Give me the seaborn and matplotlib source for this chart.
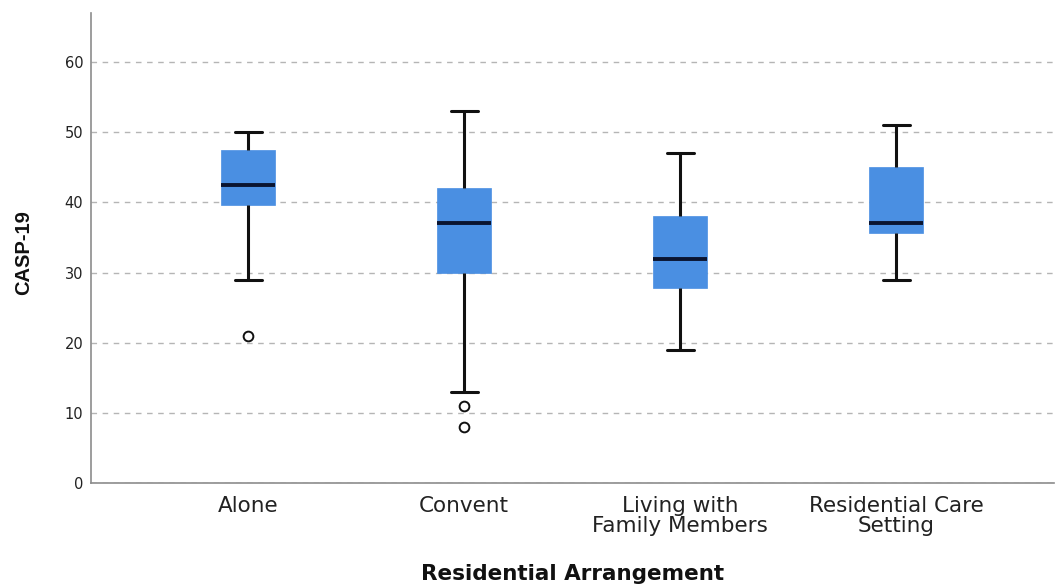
import numpy as np
import pandas as pd
import seaborn as sns
import matplotlib
matplotlib.use("Agg")
import matplotlib.pyplot as plt

# Values
categories = ["Alone", "Convent", "Living with\nFamily Members", "Residential Care\nSetting"]
whisker_low = [29, 13, 19, 29]
q1 = [39.7, 30, 27.8, 35.6]
median = [42.5, 37, 32, 37]
q3 = [47.5, 42, 38, 45]
whisker_high = [50, 53, 47, 51]
outliers = [[21], [11, 8], [], []]

# Build a table whose boxplot statistics reproduce the summary values above
rows = []
reps = 50
for i, cat in enumerate(categories):
    vals = list(outliers[i]) + [whisker_low[i]] + [q1[i]] * reps + [median[i]] * reps \
        + [q3[i]] * reps + [whisker_high[i]]
    rows += [(cat, v) for v in vals]
df = pd.DataFrame(rows, columns=["Residential Arrangement", "CASP-19"])

sns.set_theme(style="white")
plt.rcParams["font.family"] = ["DejaVu Sans"]

fig = plt.figure(figsize=(10.56, 5.87), dpi=100)
ax = fig.add_axes([91 / 1056, 1 - 483 / 587, (1054 - 91) / 1056, (483 - 13) / 587])

box_color = "#4a8fe2"
sns.boxplot(
    data=df, x="Residential Arrangement", y="CASP-19", order=categories,
    color=box_color, saturation=1, width=0.25, linewidth=2.2, linecolor="black",
    whis=1.5, ax=ax,
    boxprops=dict(edgecolor=box_color, linewidth=0.5),
    medianprops=dict(color="#0a1430", linewidth=2.8),
    whiskerprops=dict(color="#111111", linewidth=2.2),
    capprops=dict(color="#111111", linewidth=2.2),
    flierprops=dict(marker="o", markerfacecolor="none", markeredgecolor="#111111",
                    markersize=7, markeredgewidth=1.4),
)

ax.set_ylim(0, 67)
ax.set_xlim(-0.727, 3.73)
ax.set_yticks(range(0, 61, 10))
ax.yaxis.grid(True, linestyle=(0, (4, 4)), color="#b5b5b5", linewidth=1)
ax.set_axisbelow(True)
for s in ["top", "right"]:
    ax.spines[s].set_visible(False)
for s in ["left", "bottom"]:
    ax.spines[s].set_color("#8c8c8c")
    ax.spines[s].set_linewidth(1.2)
ax.tick_params(axis="both", length=0)
ax.tick_params(axis="y", labelsize=10.5, pad=5.5, labelcolor="#222222")
ax.tick_params(axis="x", labelsize=15.5, pad=9, labelcolor="#222222")
for lab in ax.get_xticklabels():
    lab.set_linespacing(1.0)
ax.set_xlabel("Residential Arrangement", fontsize=15.5, fontweight="bold", color="#111111")
ax.xaxis.set_label_coords(0.5, -0.172)
ax.set_ylabel("CASP-19", fontsize=14.5, fontweight="bold", color="#111111",
              family=["Liberation Sans", "DejaVu Sans"])
ax.yaxis.set_label_coords(-0.060, 0.49)

fig.savefig("out.png", dpi=100)
